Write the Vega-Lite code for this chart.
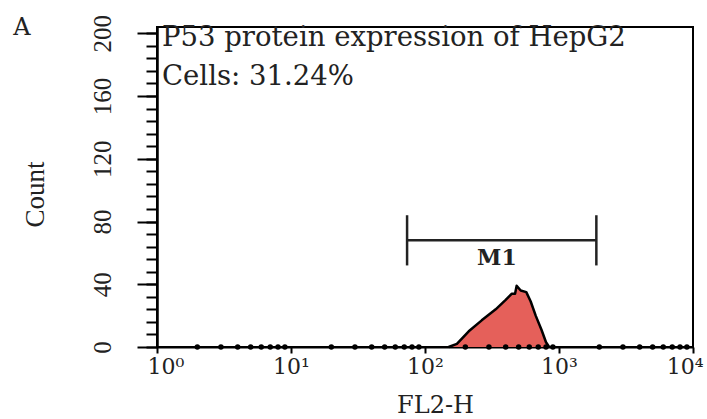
{
  "$schema": "https://vega.github.io/schema/vega-lite/v6.json",
  "width": 536,
  "height": 320,
  "autosize": {"type": "none"},
  "padding": {"left": 157, "top": 27, "right": 14, "bottom": 72},
  "background": "white",
  "config": {
    "view": {"stroke": "black", "strokeWidth": 2},
    "axis": {
      "grid": false,
      "domainColor": "black",
      "domainWidth": 2,
      "tickColor": "black",
      "tickWidth": 2,
      "labelColor": "#222222",
      "titleColor": "#222222"
    }
  },
  "datasets": {
    "histogram": [
      {"fl2": 150, "count": 0},
      {"fl2": 173, "count": 2},
      {"fl2": 212, "count": 10},
      {"fl2": 265, "count": 17},
      {"fl2": 337, "count": 24},
      {"fl2": 400, "count": 30},
      {"fl2": 445, "count": 34},
      {"fl2": 470, "count": 34},
      {"fl2": 483, "count": 39},
      {"fl2": 518, "count": 36},
      {"fl2": 570, "count": 35},
      {"fl2": 615, "count": 29},
      {"fl2": 670, "count": 20},
      {"fl2": 740, "count": 11},
      {"fl2": 800, "count": 3},
      {"fl2": 845, "count": 0}
    ],
    "minorTicks": [
      {"fl2": 2}, {"fl2": 3}, {"fl2": 4}, {"fl2": 5}, {"fl2": 6}, {"fl2": 7}, {"fl2": 8}, {"fl2": 9},
      {"fl2": 20}, {"fl2": 30}, {"fl2": 40}, {"fl2": 50}, {"fl2": 60}, {"fl2": 70}, {"fl2": 80}, {"fl2": 90},
      {"fl2": 200}, {"fl2": 300}, {"fl2": 400}, {"fl2": 500}, {"fl2": 600}, {"fl2": 700}, {"fl2": 800}, {"fl2": 900},
      {"fl2": 2000}, {"fl2": 3000}, {"fl2": 4000}, {"fl2": 5000}, {"fl2": 6000}, {"fl2": 7000}, {"fl2": 8000}, {"fl2": 9000}
    ],
    "gate": [{"from": 73.5, "to": 1900, "level": 68, "label": "M1", "mid": 344, "labelLevel": 52}],
    "gateEnds": [
      {"fl2": 73.5, "lo": 52, "hi": 84},
      {"fl2": 1900, "lo": 52, "hi": 84}
    ],
    "notes": [
      {"fl2": 1.09, "count": 192, "text": "P53 protein expression of HepG2"},
      {"fl2": 1.09, "count": 167, "text": "Cells: 31.24%"}
    ],
    "panel": [{"fl2": 0.098, "count": 199, "text": "A"}]
  },
  "resolve": {"axis": {"y": "independent"}},
  "layer": [
    {
      "data": {"name": "histogram"},
      "mark": {"type": "area", "color": "#e5605a", "opacity": 1},
      "encoding": {
        "x": {
          "field": "fl2",
          "type": "quantitative",
          "scale": {"type": "log", "domain": [1, 10000], "nice": false},
          "axis": {
            "values": [1, 10, 100, 1000, 10000],
            "labelExpr": "'10' + ['⁰','¹','²','³','⁴'][round(log(datum.value) / LN10)]",
            "tickSize": 6,
            "labelPadding": 3,
            "labelFont": "DejaVu Serif",
            "labelFontSize": 22,
            "labelFlush": true,
            "labelFlushOffset": 10,
            "labelOverlap": false,
            "title": "FL2-H",
            "titleFont": "DejaVu Serif",
            "titleFontSize": 24,
            "titleFontWeight": "normal",
            "titleAnchor": "start",
            "titleAlign": "center",
            "titleBaseline": "alphabetic",
            "titleX": 278,
            "titleY": 65
          }
        },
        "y": {
          "field": "count",
          "type": "quantitative",
          "scale": {"domain": [0, 204], "nice": false, "zero": true},
          "axis": {
            "orient": "left",
            "values": [0, 8, 16, 24, 32, 40, 48, 56, 64, 72, 80, 88, 96, 104, 112, 120, 128, 136, 144, 152, 160, 168, 176, 184, 192, 200],
            "tickSize": 11,
            "labels": false,
            "title": null
          }
        }
      }
    },
    {
      "data": {"name": "histogram"},
      "mark": {"type": "line", "color": "black", "strokeWidth": 2.5, "strokeJoin": "round"},
      "encoding": {
        "x": {"field": "fl2", "type": "quantitative"},
        "y": {
          "field": "count",
          "type": "quantitative",
          "axis": {
            "orient": "left",
            "values": [0, 40, 80, 120, 160, 200],
            "tickSize": 20,
            "labelAngle": 270,
            "labelAlign": "center",
            "labelBaseline": "alphabetic",
            "labelPadding": 27,
            "labelFont": "Liberation Serif",
            "labelFontSize": 25,
            "labelFlush": false,
            "labelOverlap": false,
            "title": "Count",
            "titleFont": "Liberation Serif",
            "titleFontSize": 27,
            "titleFontWeight": "normal",
            "titleAngle": 270,
            "titleAlign": "center",
            "titleBaseline": "alphabetic",
            "titleX": -114,
            "titleY": 167
          }
        }
      }
    },
    {
      "data": {"name": "minorTicks"},
      "mark": {"type": "point", "filled": true, "color": "black", "size": 30, "opacity": 1},
      "encoding": {
        "x": {"field": "fl2", "type": "quantitative"},
        "y": {"datum": 0, "type": "quantitative", "axis": null}
      }
    },
    {
      "data": {"name": "gate"},
      "mark": {"type": "rule", "color": "#222222", "strokeWidth": 2.5},
      "encoding": {
        "x": {"field": "from", "type": "quantitative"},
        "x2": {"field": "to"},
        "y": {"field": "level", "type": "quantitative", "axis": null}
      }
    },
    {
      "data": {"name": "gateEnds"},
      "mark": {"type": "rule", "color": "#222222", "strokeWidth": 2.5},
      "encoding": {
        "x": {"field": "fl2", "type": "quantitative"},
        "y": {"field": "lo", "type": "quantitative", "axis": null},
        "y2": {"field": "hi"}
      }
    },
    {
      "data": {"name": "gate"},
      "mark": {"type": "text", "font": "DejaVu Serif", "fontSize": 22, "fontWeight": "bold", "align": "center", "baseline": "alphabetic", "color": "#222222"},
      "encoding": {
        "x": {"field": "mid", "type": "quantitative"},
        "y": {"field": "labelLevel", "type": "quantitative", "axis": null},
        "text": {"field": "label"}
      }
    },
    {
      "data": {"name": "notes"},
      "mark": {"type": "text", "font": "DejaVu Serif", "fontSize": 27.5, "align": "left", "baseline": "alphabetic", "color": "#222222"},
      "encoding": {
        "x": {"field": "fl2", "type": "quantitative"},
        "y": {"field": "count", "type": "quantitative", "axis": null},
        "text": {"field": "text"}
      }
    },
    {
      "data": {"name": "panel"},
      "mark": {"type": "text", "font": "DejaVu Serif", "fontSize": 24, "align": "center", "baseline": "alphabetic", "color": "#222222", "clip": false},
      "encoding": {
        "x": {"field": "fl2", "type": "quantitative"},
        "y": {"field": "count", "type": "quantitative", "axis": null},
        "text": {"field": "text"}
      }
    }
  ]
}
